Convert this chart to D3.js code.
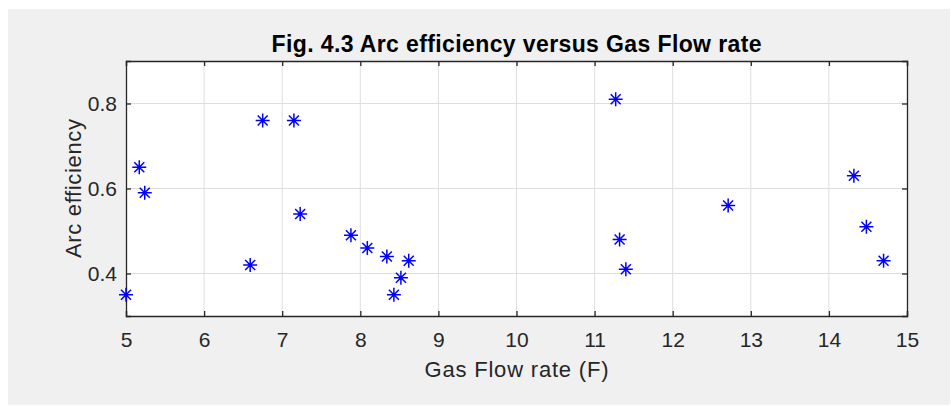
<!DOCTYPE html>
<html>
<head>
<meta charset="utf-8">
<script src="https://cdn.jsdelivr.net/npm/d3@7"></script>
<style>
  body { margin: 0; background: #ffffff; }
  text { font-family: "Liberation Sans", Arial, sans-serif; }
</style>
</head>
<body>
<div id="chart"></div>
<script>

// data

var gasFlow = [5.0, 5.17, 5.24, 6.59, 6.75, 7.15, 7.23, 7.88, 8.09, 8.34, 8.52, 8.43, 8.62,
               11.27, 11.32, 11.4, 12.71, 14.32, 14.48, 14.7];
var arcEff = [0.35, 0.65, 0.59, 0.42, 0.76, 0.76, 0.54, 0.49, 0.46, 0.44, 0.39, 0.35, 0.43,
              0.81, 0.48, 0.41, 0.56, 0.63, 0.51, 0.43];
var xTicks = [5, 6, 7, 8, 9, 10, 11, 12, 13, 14, 15];
var yTicks = [0.4, 0.6, 0.8];

var titleText = "Fig. 4.3 Arc efficiency versus Gas Flow rate";
var xLabel = "Gas Flow rate (F)";
var yLabel = "Arc efficiency";

// set up the svg

var w = 951, h = 406;
var plotL = 126, plotR = 907, plotT = 61, plotB = 316;
var axisColor = "#262626";

var svg = d3.select("#chart")
    .append("svg")
    .attr("width", w)
    .attr("height", h);

// grey figure panel
svg.append("rect")
    .attr("x", 8).attr("y", 9)
    .attr("width", 942).attr("height", 396)
    .attr("fill", "#f0f0f0");

var x = d3.scaleLinear().domain([5, 15]).range([plotL, plotR]);
var y = d3.scaleLinear().domain([0.3, 0.9]).range([plotB, plotT]);

// axes area
svg.append("rect")
    .attr("x", plotL).attr("y", plotT)
    .attr("width", plotR - plotL).attr("height", plotB - plotT)
    .attr("fill", "#ffffff");

// grid lines
var grid = svg.append("g");
grid.selectAll(".gx")
    .data(xTicks.slice(1, -1))
    .enter()
    .append("line")
    .attr("x1", function(d) { return x(d); })
    .attr("x2", function(d) { return x(d); })
    .attr("y1", plotT).attr("y2", plotB)
    .attr("stroke", "#dedede")
    .attr("stroke-width", 1);
grid.selectAll(".gy")
    .data(yTicks)
    .enter()
    .append("line")
    .attr("x1", plotL).attr("x2", plotR)
    .attr("y1", function(d) { return y(d); })
    .attr("y2", function(d) { return y(d); })
    .attr("stroke", "#dedede")
    .attr("stroke-width", 1);

// axes with inward ticks, box on
var tickLen = 5;
var fontSize = "21px";

var bottomAxis = svg.append("g")
    .attr("transform", "translate(0," + plotB + ")")
    .call(d3.axisBottom(x).tickValues(xTicks).tickSize(-tickLen).tickPadding(16).tickFormat(d3.format("d")));
var topAxis = svg.append("g")
    .attr("transform", "translate(0," + plotT + ")")
    .call(d3.axisTop(x).tickValues(xTicks).tickSize(-tickLen).tickFormat(""));
var leftAxis = svg.append("g")
    .attr("transform", "translate(" + plotL + ",0)")
    .call(d3.axisLeft(y).tickValues(yTicks).tickSize(-tickLen).tickPadding(9).tickFormat(d3.format(".1f")));
var rightAxis = svg.append("g")
    .attr("transform", "translate(" + plotR + ",0)")
    .call(d3.axisRight(y).tickValues(yTicks).tickSize(-tickLen).tickFormat(""));

[bottomAxis, topAxis, leftAxis, rightAxis].forEach(function(a) {
    a.attr("font-size", null).attr("font-family", null);
    a.select(".domain").attr("stroke", axisColor).attr("stroke-width", 1.3);
    a.selectAll(".tick line").attr("stroke", axisColor).attr("stroke-width", 1.3);
    a.selectAll(".tick text")
        .attr("fill", axisColor)
        .style("font-size", fontSize);
});

// asterisk markers
var r = 7, rd = 5;
var marks = svg.append("g")
    .selectAll(".mark")
    .data(gasFlow.map(function(g, i) { return [g, arcEff[i]]; }))
    .enter()
    .append("path")
    .attr("transform", function(d) { return "translate(" + x(d[0]) + "," + y(d[1]) + ")"; })
    .attr("d", "M" + (-r) + ",0H" + r + "M0," + (-r) + "V" + r +
               "M" + (-rd) + "," + (-rd) + "L" + rd + "," + rd +
               "M" + (-rd) + "," + rd + "L" + rd + "," + (-rd))
    .attr("stroke", "#0000ff")
    .attr("stroke-width", 1.5)
    .attr("fill", "none");

// title and labels
svg.append("text")
    .attr("x", (plotL + plotR) / 2)
    .attr("y", 52)
    .attr("text-anchor", "middle")
    .attr("textLength", 490)
    .attr("lengthAdjust", "spacing")
    .style("font-size", "23px")
    .attr("font-weight", "bold")
    .attr("fill", "#000000")
    .text(titleText);

svg.append("text")
    .attr("x", (plotL + plotR) / 2)
    .attr("y", 377)
    .attr("text-anchor", "middle")
    .attr("textLength", 184)
    .attr("lengthAdjust", "spacing")
    .style("font-size", "22px")
    .attr("fill", axisColor)
    .text(xLabel);

svg.append("text")
    .attr("transform", "translate(81," + (plotT + plotB) / 2 + ") rotate(-90)")
    .attr("text-anchor", "middle")
    .attr("textLength", 139)
    .attr("lengthAdjust", "spacing")
    .style("font-size", "22px")
    .attr("fill", axisColor)
    .text(yLabel);

</script>
</body>
</html>
